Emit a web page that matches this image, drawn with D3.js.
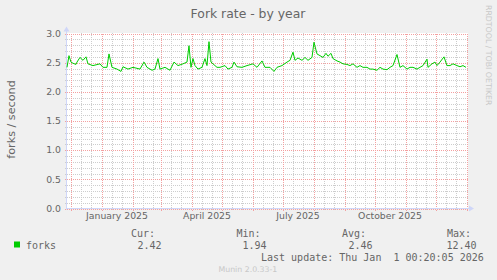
<!DOCTYPE html>
<html>
<head>
<meta charset="utf-8">
<script src="https://cdn.jsdelivr.net/npm/d3@7"></script>
<style>
  body { margin: 0; background: #f0f0f0; }
  svg { display: block; }
</style>
</head>
<body>
<svg id="chart" width="497" height="280"></svg>
<script>
// daily fork rate readings (forks / second)
const dates = [
  '2024-11-27', '2024-11-29', '2024-12-01', '2024-12-03', '2024-12-06', '2024-12-07',
  '2024-12-10', '2024-12-13', '2024-12-16', '2024-12-18', '2024-12-23', '2024-12-30',
  '2025-01-02', '2025-01-06', '2025-01-08', '2025-01-11', '2025-01-16', '2025-01-20',
  '2025-01-22', '2025-01-27', '2025-02-01', '2025-02-08', '2025-02-12', '2025-02-15',
  '2025-02-20', '2025-02-23', '2025-02-26', '2025-02-28', '2025-03-05', '2025-03-10',
  '2025-03-14', '2025-03-18', '2025-03-23', '2025-03-27', '2025-03-29', '2025-03-31',
  '2025-04-02', '2025-04-04', '2025-04-07', '2025-04-11', '2025-04-14', '2025-04-16',
  '2025-04-18', '2025-04-20', '2025-04-22', '2025-04-26', '2025-04-29', '2025-05-04',
  '2025-05-07', '2025-05-11', '2025-05-13', '2025-05-16', '2025-05-21', '2025-05-26',
  '2025-06-01', '2025-06-05', '2025-06-10', '2025-06-13', '2025-06-18', '2025-06-22',
  '2025-06-25', '2025-06-30', '2025-07-05', '2025-07-08', '2025-07-11', '2025-07-13',
  '2025-07-16', '2025-07-20', '2025-07-23', '2025-07-26', '2025-07-30', '2025-08-01',
  '2025-08-04', '2025-08-07', '2025-08-10', '2025-08-13', '2025-08-15', '2025-08-18',
  '2025-08-20', '2025-08-24', '2025-08-27', '2025-08-30', '2025-09-03', '2025-09-06',
  '2025-09-09', '2025-09-13', '2025-09-16', '2025-09-19', '2025-09-23', '2025-09-26',
  '2025-09-29', '2025-10-03', '2025-10-06', '2025-10-09', '2025-10-13', '2025-10-16',
  '2025-10-19', '2025-10-23', '2025-10-26', '2025-10-29', '2025-11-02', '2025-11-05',
  '2025-11-08', '2025-11-12', '2025-11-15', '2025-11-18', '2025-11-22', '2025-11-23',
  '2025-11-27', '2025-11-30', '2025-12-02', '2025-12-05', '2025-12-09', '2025-12-12',
  '2025-12-15', '2025-12-18', '2025-12-22', '2025-12-25', '2025-12-28', '2025-12-31'
];
const forks = [
  2.42, 2.62, 2.51, 2.49, 2.47, 2.51,
  2.59, 2.54, 2.60, 2.48, 2.45, 2.48,
  2.42, 2.42, 2.65, 2.42, 2.39, 2.35,
  2.43, 2.39, 2.42, 2.39, 2.51, 2.42,
  2.37, 2.39, 2.57, 2.39, 2.42, 2.37,
  2.51, 2.45, 2.48, 2.51, 2.79, 2.42,
  2.57, 2.45, 2.39, 2.42, 2.57, 2.45,
  2.86, 2.51, 2.48, 2.42, 2.42, 2.45,
  2.39, 2.42, 2.51, 2.43, 2.42, 2.45,
  2.48, 2.42, 2.53, 2.42, 2.42, 2.35,
  2.42, 2.45, 2.51, 2.54, 2.68, 2.54,
  2.58, 2.54, 2.59, 2.54, 2.59, 2.85,
  2.65, 2.62, 2.59, 2.66, 2.61, 2.66,
  2.57, 2.53, 2.51, 2.48, 2.47, 2.45,
  2.48, 2.42, 2.45, 2.42, 2.42, 2.39,
  2.39, 2.37, 2.42, 2.39, 2.38, 2.42,
  2.45, 2.64, 2.42, 2.45, 2.39, 2.42,
  2.42, 2.39, 2.42, 2.45, 2.56, 2.42,
  2.48, 2.51, 2.45, 2.51, 2.60, 2.45,
  2.45, 2.48, 2.45, 2.43, 2.45, 2.42
];
const yLabels = [0, 0.5, 1.0, 1.5, 2.0, 2.5, 3.0];
const monthLabels = ['2025-01-01', '2025-04-01', '2025-07-01', '2025-10-01'];
const statLabels = ['Cur:', 'Min:', 'Avg:', 'Max:'];
const statValues = ['2.42', '1.94', '2.46', '12.40'];

const parse = d3.timeParse('%Y-%m-%d');
const data = dates.map((d, i) => ({date: parse(d), value: forks[i]}));

const svg = d3.select('#chart');
const plotL = 67, plotR = 467, plotT = 33.5, plotB = 208.5;
const sans = 'DejaVu Sans, sans-serif';
const mono = 'DejaVu Sans Mono, monospace';
const minorColor = '#cdcdcd', majorColor = '#f3a0a0';

const x = d3.scaleTime()
  .domain([new Date(2024, 10, 27, 0, 20), new Date(2026, 0, 1, 0, 20)])
  .range([plotL, plotR]);
const y = d3.scaleLinear().domain([0, 3]).range([plotB, plotT]);

// canvas
svg.append('rect').attr('x', plotL).attr('y', 33).attr('width', plotR - plotL + 1)
  .attr('height', 175.5).attr('fill', '#fff');

const grid = svg.append('g');

// minor grid (0.1 and ~10 day steps)
const minorY = y.ticks(30).filter(v => Math.round(v * 10) % 5 !== 0);
grid.selectAll('line.my').data(minorY).enter().append('line')
  .attr('x1', plotL - 2).attr('x2', plotR + 1)
  .attr('y1', d => Math.round(y(d)) + 0.5).attr('y2', d => Math.round(y(d)) + 0.5)
  .attr('stroke', minorColor).attr('stroke-dasharray', '1,1');
const minorX = d3.timeDay.range(x.domain()[0], x.domain()[1])
  .filter(d => d.getDate() === 11 || d.getDate() === 21);
grid.selectAll('line.mx').data(minorX).enter().append('line')
  .attr('x1', d => Math.round(x(d)) + 0.5).attr('x2', d => Math.round(x(d)) + 0.5)
  .attr('y1', 33).attr('y2', 211)
  .attr('stroke', minorColor).attr('stroke-dasharray', '1,1');

// major grid
const majorY = y.ticks(6);
grid.selectAll('line.My').data(majorY).enter().append('line')
  .attr('x1', plotL - 2).attr('x2', plotR + 1)
  .attr('y1', d => Math.round(y(d)) + 0.5).attr('y2', d => Math.round(y(d)) + 0.5)
  .attr('stroke', majorColor).attr('stroke-dasharray', '1,1');
const majorX = d3.timeMonth.range(x.domain()[0], d3.timeDay.offset(x.domain()[1], 1));
grid.selectAll('line.Mx').data(majorX).enter().append('line')
  .attr('x1', d => Math.round(x(d)) + 0.5).attr('x2', d => Math.round(x(d)) + 0.5)
  .attr('y1', 34).attr('y2', 212)
  .attr('stroke', majorColor).attr('stroke-dasharray', '1,1');

// axes with arrows
const axisColor = '#cfd6f8';
svg.append('line').attr('x1', plotL - 0.5).attr('x2', plotL - 0.5)
  .attr('y1', plotB + 1).attr('y2', 29).attr('stroke', axisColor);
svg.append('line').attr('x1', plotL - 1).attr('x2', plotR + 2)
  .attr('y1', plotB).attr('y2', plotB).attr('stroke', axisColor);
svg.append('path').attr('d', `M${plotL - 3.5},${plotT - 2}L${plotL - 0.5},${plotT - 7}L${plotL + 2.5},${plotT - 2}Z`)
  .attr('fill', axisColor);
svg.append('path').attr('d', `M${plotR + 2},${plotB - 3}L${plotR + 7},${plotB}L${plotR + 2},${plotB + 3}Z`)
  .attr('fill', axisColor);

// series line
svg.append('path').datum(data)
  .attr('fill', 'none').attr('stroke', '#00cc00').attr('stroke-width', 1)
  .attr('d', d3.line().x(d => x(d.date)).y(d => y(d.value)));

// y labels
svg.selectAll('text.yl').data(yLabels).enter().append('text')
  .attr('x', 61).attr('y', d => y(d) + 3.3)
  .attr('text-anchor', 'end').attr('font-family', sans).attr('font-size', 9.3)
  .attr('fill', '#666').text(d3.format('.1f'));

// x labels, centred mid-month
svg.selectAll('text.xl').data(monthLabels.map(parse)).enter().append('text')
  .attr('x', d => x(d3.timeDay.offset(d, 15))).attr('y', 219)
  .attr('text-anchor', 'middle').attr('font-family', sans).attr('font-size', 9.3)
  .attr('fill', '#666').text(d3.timeFormat('%B %Y'));

// title and labels
svg.append('text').attr('x', 248).attr('y', 18).attr('text-anchor', 'middle')
  .attr('font-family', sans).attr('font-size', 12.4).attr('fill', '#666')
  .text('Fork rate - by year');
svg.append('text').attr('transform', 'translate(15,119.5) rotate(-90)')
  .attr('text-anchor', 'middle').attr('font-family', sans).attr('font-size', 11.2)
  .attr('fill', '#666').text('forks / second');
svg.append('text').attr('transform', 'translate(486,5) rotate(90)')
  .attr('font-family', sans).attr('font-size', 7.8).attr('fill', '#c8c8c8')
  .text('RRDTOOL / TOBI OETIKER');

// legend
svg.append('rect').attr('x', 14).attr('y', 241.5).attr('width', 6).attr('height', 6)
  .attr('fill', '#00cc00');
svg.append('text').attr('x', 26).attr('y', 249).attr('font-family', mono)
  .attr('font-size', 10).attr('fill', '#666').text('forks');
const statX = [131, 236.5, 342, 447];
const valX = [137.5, 242.5, 348.5, 446.5];
svg.selectAll('text.sl').data(statLabels).enter().append('text')
  .attr('x', (d, i) => statX[i]).attr('y', 236.5)
  .attr('font-family', mono).attr('font-size', 10).attr('fill', '#666').text(d => d);
svg.selectAll('text.sv').data(statValues).enter().append('text')
  .attr('x', (d, i) => valX[i]).attr('y', 249)
  .attr('font-family', mono).attr('font-size', 10).attr('fill', '#666').text(d => d);
svg.append('text').attr('x', 261).attr('y', 261).attr('font-family', mono)
  .attr('font-size', 10).attr('fill', '#666')
  .style('white-space', 'pre')
  .text('Last update: Thu Jan  1 00:20:05 2026');
svg.append('text').attr('x', 218.5).attr('y', 272).attr('font-family', sans)
  .attr('font-size', 7.8).attr('fill', '#c8c8c8').text('Munin 2.0.33-1');
</script>
</body>
</html>
